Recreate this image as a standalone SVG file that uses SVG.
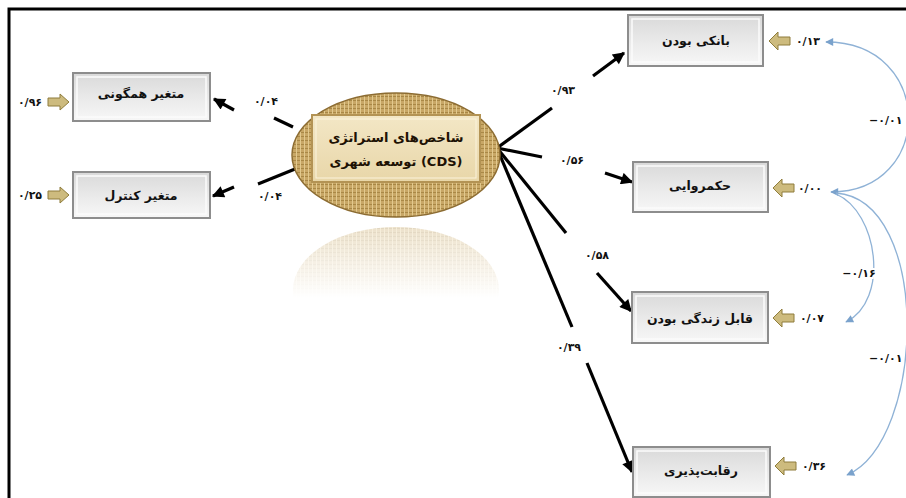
<svg xmlns="http://www.w3.org/2000/svg" width="906" height="498" viewBox="0 0 906 498">
<style>
.lbl{font-family:"DejaVu Sans","Noto Sans",sans-serif;font-weight:bold;font-size:12.5px;fill:#111;text-anchor:middle}
.num{font-family:"DejaVu Sans","Noto Sans",sans-serif;font-weight:bold;font-size:11px;fill:#111;text-anchor:middle}
.numh{paint-order:stroke;stroke:#fff;stroke-width:4px}
.conn{stroke:#000;stroke-width:3.2;fill:none}
.cov{stroke:#8fb2d6;stroke-width:1.3;fill:none}
.box{fill:url(#boxg);stroke:#8d8d8d;stroke-width:2}
.boxin{fill:none;stroke:#fbfbfb;stroke-width:1.5}
.err{fill:#cdbb7e;stroke:#8f7d3c;stroke-width:1}
</style>
<defs>
<linearGradient id="boxg" x1="0" y1="0" x2="0" y2="1">
<stop offset="0" stop-color="#d9d9d9"/>
<stop offset="0.6" stop-color="#ececec"/>
<stop offset="1" stop-color="#f7f7f7"/>
</linearGradient>
<pattern id="burlap" width="4" height="4" patternUnits="userSpaceOnUse">
<rect width="4" height="4" fill="#c8a766"/>
<rect width="4" height="1" fill="#a98846"/>
<rect width="1" height="4" fill="#e2c98e"/>
</pattern>
<linearGradient id="inner" x1="0" y1="0" x2="0" y2="1">
<stop offset="0" stop-color="#f3e7c6"/>
<stop offset="1" stop-color="#e8d6a8"/>
</linearGradient>
<linearGradient id="reflg" gradientUnits="userSpaceOnUse" x1="0" y1="226" x2="0" y2="298">
<stop offset="0" stop-color="#fff" stop-opacity="0.35"/>
<stop offset="1" stop-color="#fff" stop-opacity="0"/>
</linearGradient>
<mask id="reflm" maskUnits="userSpaceOnUse" x="280" y="220" width="240" height="90">
<rect x="280" y="220" width="240" height="90" fill="url(#reflg)"/>
</mask>
<marker id="ah" viewBox="0 0 10 10" refX="9" refY="5" markerWidth="14" markerHeight="12" markerUnits="userSpaceOnUse" orient="auto">
<path d="M0,0 L10,5 L0,10 Z" fill="#000"/>
</marker>
<marker id="bh" viewBox="0 0 10 10" refX="9" refY="5" markerWidth="9" markerHeight="8" markerUnits="userSpaceOnUse" orient="auto-start-reverse">
<path d="M0,0 L10,5 L0,10 Z" fill="#7aa2cc"/>
</marker>
<path id="errR" d="M0,-4 H12 V-8 L21,0 L12,8 V4 H0 Z"/>
<path id="errL" d="M0,0 L9,-9 V-4 H21 V4 H9 V9 Z"/>
</defs>

<rect width="906" height="498" fill="#fff"/>
<path d="M9,498 V9 H906" fill="none" stroke="#000" stroke-width="3"/>

<g id="connectors">
<line class="conn" x1="293" y1="127" x2="274" y2="118"/>
<line class="conn" x1="234" y1="110" x2="214" y2="99" marker-end="url(#ah)"/>
<line class="conn" x1="300" y1="167" x2="258" y2="184"/>
<line class="conn" x1="234" y1="187" x2="213" y2="196" marker-end="url(#ah)"/>
<line class="conn" x1="497" y1="148" x2="552" y2="108"/>
<line class="conn" x1="593" y1="76" x2="624" y2="53" marker-end="url(#ah)"/>
<line class="conn" x1="497" y1="148" x2="542" y2="157"/>
<line class="conn" x1="605" y1="173" x2="632" y2="182" marker-end="url(#ah)"/>
<line class="conn" x1="497" y1="148" x2="566" y2="233"/>
<line class="conn" x1="597" y1="273" x2="631" y2="311" marker-end="url(#ah)"/>
<line class="conn" x1="497" y1="148" x2="572" y2="327"/>
<line class="conn" x1="587" y1="363" x2="632" y2="472" marker-end="url(#ah)"/>
<text class="num" x="266" y="105">۰/۰۴</text>
<text class="num" x="270" y="200">۰/۰۴</text>
<text class="num" x="563" y="94">۰/۹۳</text>
<text class="num" x="572" y="164">۰/۵۶</text>
<text class="num" x="597" y="259">۰/۵۸</text>
<text class="num" x="569" y="351">۰/۳۹</text>
<path class="cov" d="M826,42 C935,42 935,192 831,192" marker-start="url(#bh)" marker-end="url(#bh)"/>
<path class="cov" d="M836,194 C878,212 890,300 846,322" stroke="#a9bfd6" marker-end="url(#bh)"/>
<path class="cov" d="M836,193 C932,200 926,440 847,475" marker-end="url(#bh)"/>
<text class="num numh" x="869" y="124" style="text-anchor:start">−۰/۰۱</text>
<text class="num numh" x="859" y="277">−۰/۱۶</text>
<text class="num numh" x="869" y="362" style="text-anchor:start">−۰/۰۱</text>
</g>

<g id="node-cds">
<ellipse cx="396" cy="290" rx="103" ry="63" fill="url(#burlap)" mask="url(#reflm)"/>
<ellipse cx="396" cy="155" rx="104" ry="62" fill="url(#burlap)" stroke="#8c6c32" stroke-width="1.5"/>
<rect x="312" y="115" width="168" height="67" fill="url(#inner)" stroke="#b39354" stroke-width="2"/>
<rect x="316" y="119" width="160" height="59" fill="none" stroke="#fbf3dc" stroke-width="1"/>
<text class="lbl" x="396" y="142" style="font-size:13px;fill:#1e1204">شاخص‌های استراتژی</text>
<text class="lbl" x="396" y="166" style="font-size:13px;fill:#1e1204">توسعه شهری (CDS)</text>
</g>

<g id="node-hamgoni">
<rect class="box" x="73" y="73" width="137" height="48"/>
<rect class="boxin" x="77" y="77" width="129" height="40"/>
<text class="lbl" x="141" y="98">متغیر همگونی</text>
<use href="#errR" class="err" x="48" y="102"/>
<text class="num" x="30" y="106">۰/۹۶</text>
</g>

<g id="node-control">
<rect class="box" x="73" y="172" width="137" height="46"/>
<rect class="boxin" x="77" y="176" width="129" height="38"/>
<text class="lbl" x="141" y="200">متغیر کنترل</text>
<use href="#errR" class="err" x="48" y="195"/>
<text class="num" x="30" y="199">۰/۲۵</text>
</g>

<g id="node-banki">
<rect class="box" x="628" y="15" width="135" height="51"/>
<rect class="boxin" x="632" y="19" width="127" height="43"/>
<text class="lbl" x="696" y="45">بانکی بودن</text>
<use href="#errL" class="err" x="769" y="41"/>
<text class="num" x="808" y="45">۰/۱۳</text>
</g>

<g id="node-hokmravai">
<rect class="box" x="633" y="162" width="135" height="50"/>
<rect class="boxin" x="637" y="166" width="127" height="42"/>
<text class="lbl" x="700" y="190">حکمروایی</text>
<use href="#errL" class="err" x="773" y="188"/>
<text class="num" x="810" y="192">۰/۰۰</text>
</g>

<g id="node-zendegi">
<rect class="box" x="632" y="292" width="136" height="51"/>
<rect class="boxin" x="636" y="296" width="128" height="43"/>
<text class="lbl" x="700" y="323">قابل زندگی بودن</text>
<use href="#errL" class="err" x="773" y="318"/>
<text class="num" x="812" y="322">۰/۰۷</text>
</g>

<g id="node-reqabat">
<rect class="box" x="633" y="447" width="137" height="50"/>
<rect class="boxin" x="637" y="451" width="129" height="42"/>
<text class="lbl" x="701" y="475">رقابت‌پذیری</text>
<use href="#errL" class="err" x="775" y="466"/>
<text class="num" x="814" y="470">۰/۳۶</text>
</g>
</svg>
